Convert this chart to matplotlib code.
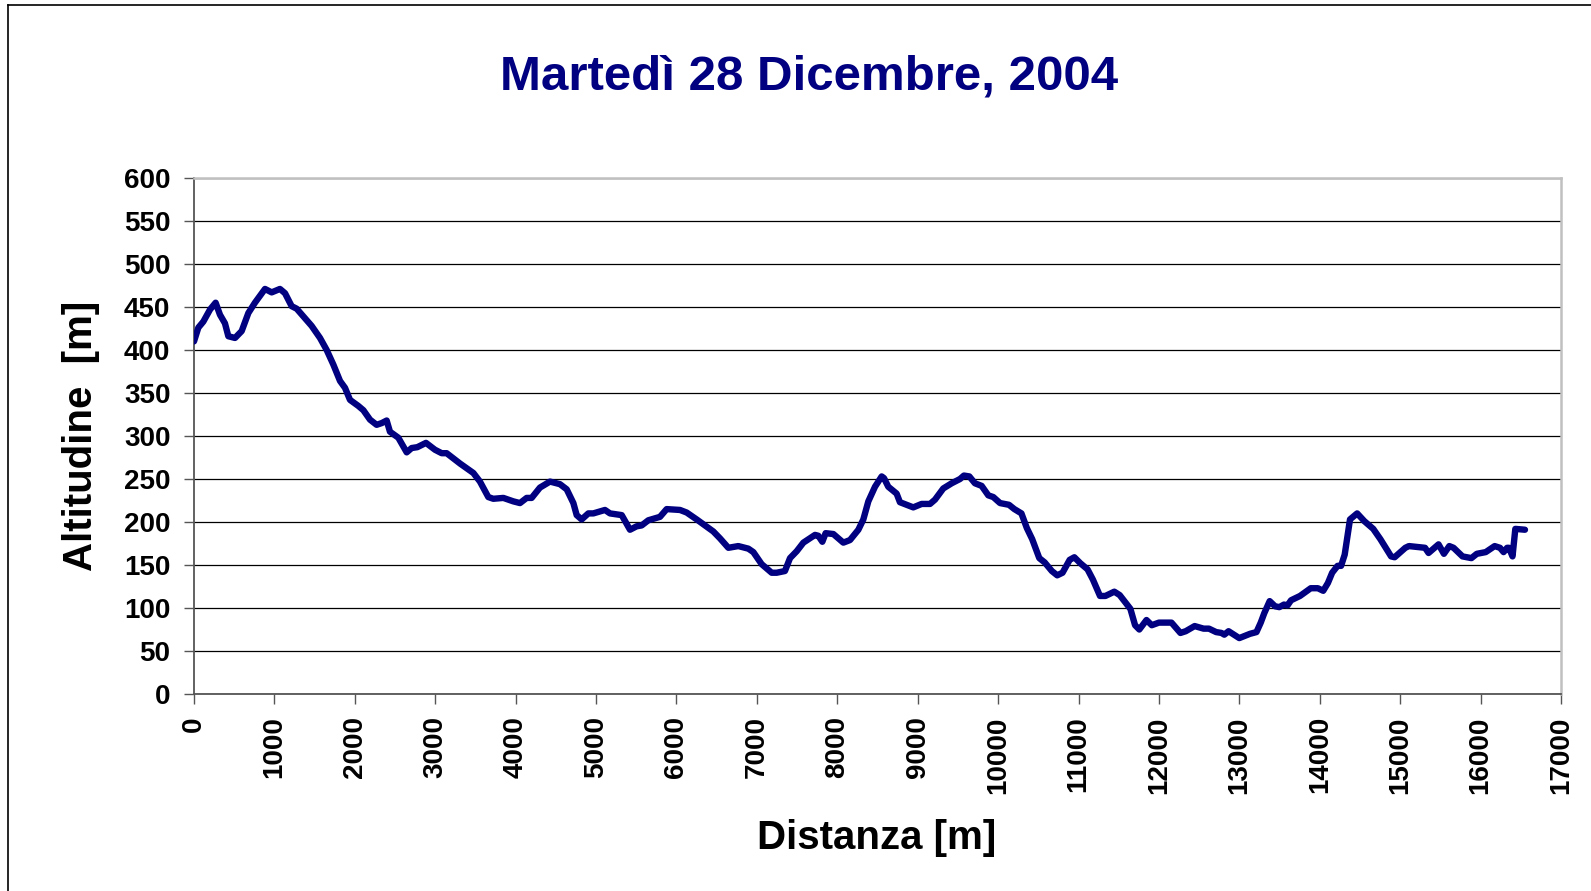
import matplotlib
matplotlib.use("Agg")
import matplotlib.pyplot as plt
from matplotlib.lines import Line2D

plt.rcParams['font.family'] = ['Liberation Sans', 'DejaVu Sans']

title = "Martedì 28 Dicembre, 2004"
xlabel = "Distanza [m]"
ylabel = "Altitudine  [m]"

distance = [0, 54, 116, 199, 269, 323, 385, 427, 510, 593, 676, 758, 883, 966, 1069, 1132,
            1214, 1277, 1360, 1463, 1567, 1650, 1733, 1816, 1878, 1940, 2043, 2106, 2189, 2271,
            2334, 2396, 2437, 2541, 2645, 2707, 2777, 2885, 2997, 3080, 3142, 3308, 3474, 3556,
            3660, 3722, 3847, 3971, 4054, 4137, 4199, 4302, 4427, 4551, 4635, 4718, 4759, 4821,
            4904, 4966, 5111, 5173, 5319, 5422, 5505, 5567, 5650, 5795, 5878, 6044, 6127, 6251,
            6355, 6458, 6541, 6645, 6769, 6894, 6956, 7059, 7184, 7246, 7349, 7412, 7495, 7578,
            7723, 7764, 7814, 7855, 7951, 8075, 8158, 8262, 8324, 8386, 8469, 8552, 8581, 8634,
            8738, 8779, 8862, 8945, 9049, 9153, 9215, 9318, 9422, 9526, 9575, 9642, 9712, 9795,
            9878, 9940, 10024, 10135, 10202, 10290, 10357, 10424, 10512, 10579, 10668, 10735,
            10801, 10890, 10948, 11023, 11112, 11179, 11267, 11334, 11445, 11512, 11645, 11703,
            11756, 11845, 11911, 12000, 12156, 12267, 12333, 12444, 12555, 12622, 12711, 12777,
            12813, 12866, 12999, 13133, 13213, 13266, 13310, 13377, 13444, 13497, 13555, 13599,
            13643, 13754, 13799, 13888, 13976, 14043, 14101, 14154, 14221, 14265, 14310, 14376,
            14465, 14554, 14665, 14754, 14820, 14887, 14931, 15064, 15109, 15309, 15353, 15477,
            15544, 15611, 15664, 15775, 15886, 15953, 16064, 16175, 16241, 16286, 16330, 16352,
            16397, 16432, 16552]

altitude = [410, 426, 433, 447, 455, 441, 431, 416, 414, 422, 443, 455, 471, 467, 471, 466,
            451, 448, 439, 428, 414, 400, 383, 364, 356, 342, 335, 330, 319, 313,
            315, 318, 305, 298, 281, 286, 287, 292, 284, 280, 280, 268, 257, 247,
            229, 227, 228, 224, 222, 228, 228, 240, 247, 244, 238, 222, 208, 203,
            210, 210, 214, 210, 208, 191, 195, 196, 202, 206, 215, 214, 211, 203,
            196, 189, 181, 170, 172, 169, 165, 151, 141, 141, 143, 158, 166, 176,
            185, 184, 177, 187, 186, 176, 179, 191, 203, 224, 241, 253, 251, 241,
            233, 223, 220, 217, 221, 221, 226, 239, 245, 250, 254, 253, 245, 242,
            231, 229, 222, 220, 215, 210, 193, 180, 158, 153, 143, 138,
            141, 156, 159, 152, 145, 133, 114, 114, 119, 115, 99, 80,
            75, 86, 80, 83, 83, 71, 73, 79, 76, 76, 72, 71,
            69, 73, 65, 70, 72, 83, 94, 108, 102, 101, 104, 103,
            109, 114, 117, 123, 123, 120, 129, 141, 149, 149, 162, 203,
            210, 201, 192, 180, 170, 160, 159, 170, 172, 170, 164, 174,
            163, 172, 170, 160, 158, 163, 165, 172, 170, 165, 170, 170,
            160, 192, 191]

xticks = list(range(0, 17001, 1000))
yticks = list(range(0, 601, 50))

W, H = 1591, 891
fig = plt.figure(figsize=(W / 100, H / 100), dpi=100)
fig.patch.set_facecolor('white')

# outer frame (cut off at right and bottom)
fig.add_artist(Line2D([8 / W, 8 / W], [0, 1 - 4.7 / H], transform=fig.transFigure,
                      color='black', lw=1.2))
fig.add_artist(Line2D([8 / W, 1], [1 - 4.7 / H, 1 - 4.7 / H], transform=fig.transFigure,
                      color='black', lw=1.2))

left, right, top, bottom = 194, 1561, 178, 694
ax = fig.add_axes([left / W, 1 - bottom / H, (right - left) / W, (bottom - top) / H])

ax.plot(distance, altitude, color='#000080', lw=4.6, solid_joinstyle='round',
        solid_capstyle='round', zorder=3)

ax.set_xlim(0, 17000)
ax.set_ylim(0, 600)
ax.set_xticks(xticks)
ax.set_yticks(yticks)
ax.set_xticklabels([str(v) for v in xticks], rotation=90, fontsize=20, fontweight='bold')
ax.set_yticklabels([str(v) for v in yticks], fontsize=20, fontweight='bold')
ax.tick_params(axis='x', direction='out', length=7, width=1, color='#555555', pad=9)
ax.tick_params(axis='y', direction='out', length=7, width=1, color='#555555', pad=10)

ax.grid(axis='y', color='black', lw=0.9, zorder=1)
ax.set_axisbelow(True)

ax.spines['left'].set_color('#555555')
ax.spines['bottom'].set_color('#555555')
ax.spines['left'].set_linewidth(1.3)
ax.spines['bottom'].set_linewidth(1.3)
ax.spines['top'].set_color('#c0c0c0')
ax.spines['right'].set_color('#c0c0c0')
ax.spines['top'].set_linewidth(1.8)
ax.spines['right'].set_linewidth(1.8)

fig.text(809 / W, 1 - 77 / H, title, ha='center', va='center', fontsize=35.5,
         fontweight='bold', color='#000080')
fig.text(877 / W, 1 - 838 / H, xlabel, ha='center', va='center', fontsize=29,
         fontweight='bold', color='black')
fig.text(81 / W, 1 - 436 / H, ylabel, ha='center', va='center', fontsize=29,
         fontweight='bold', color='black', rotation=90)

fig.savefig('out.png', dpi=100, facecolor='white')
